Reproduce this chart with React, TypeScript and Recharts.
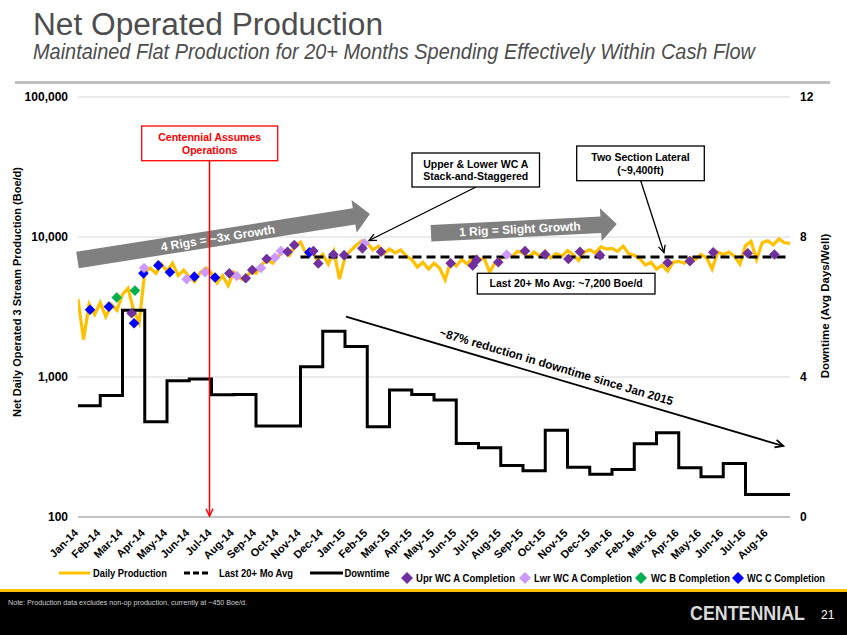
import { ComposedChart, Line, Scatter, XAxis, YAxis, CartesianGrid } from 'recharts';

const FONT = '"Liberation Sans", Arial, sans-serif';

const months = [
  'Jan-14', 'Feb-14', 'Mar-14', 'Apr-14', 'May-14', 'Jun-14', 'Jul-14', 'Aug-14',
  'Sep-14', 'Oct-14', 'Nov-14', 'Dec-14', 'Jan-15', 'Feb-15', 'Mar-15', 'Apr-15',
  'May-15', 'Jun-15', 'Jul-15', 'Aug-15', 'Sep-15', 'Oct-15', 'Nov-15', 'Dec-15',
  'Jan-16', 'Feb-16', 'Mar-16', 'Apr-16', 'May-16', 'Jun-16', 'Jul-16', 'Aug-16',
];

// daily production, read roughly 4 times a month (Boe/d)
const production = [
  3600, 1850, 3300, 2800, // Jan-14
  3400, 2700, 3300, 3000,
  3900, 4300, 3000, 2450,
  5600, 6000, 5500, 6400,
  5700, 6500, 5300, 5800,
  5200, 4800, 5600, 6000,
  5500, 4700, 5300, 4500,
  5600, 5100, 4900, 5700,
  5500, 6300, 6900, 6500,
  7300, 8000, 7400, 8600,
  9200, 7600, 8100, 6800,
  7500, 6400, 7900, 5000,
  7200, 8000, 8700, 9400, // Jan-15
  9100, 8100, 8600, 7600,
  8200, 7700, 8100, 7300,
  6900, 6100, 6600, 5900,
  6500, 6000, 4950, 6700,
  6200, 6900, 6400, 7200,
  6800, 7100, 5600, 6600,
  7000, 7600, 7200, 7900,
  7700, 7200, 7800, 7300,
  7900, 7100, 7600, 7300,
  8000, 7500, 6800, 7800,
  8100, 7700, 8500, 8200,
  8300, 7900, 8600, 7600, // Jan-16
  7400, 7000, 6300, 6600,
  5900, 6300, 5700, 6600,
  6700, 6500, 7100, 6900,
  7500, 7100, 5900, 7800,
  7500, 7800, 7300, 6400,
  8700, 9300, 6900, 9100,
  9400, 8800, 9700, 9100,
  9000,
];

// downtime per month (avg days / well)
const downtime = [
  3.18, 3.47, 5.91, 2.72, 3.89, 3.94, 3.49, 3.5, 2.6, 2.6, 4.29, 5.31,
  4.87, 2.58, 3.63, 3.5, 3.34, 2.1, 1.98, 1.47, 1.32, 2.48, 1.42, 1.22,
  1.36, 2.09, 2.41, 1.41, 1.15, 1.53, 0.64, 0.64,
];

const avgLevel = 7200;
const avgStart = 10; // Nov-14

// completions: [month position, production]
const uprWcA = [
  [2.41, 2850], [6.8, 5500], [7.54, 5070], [7.83, 5810], [8.48, 6970], [9.42, 7850],
  [9.72, 8770], [10.58, 7950], [10.8, 6460], [11.48, 7500], [11.96, 7420], [12.78, 8300],
  [13.62, 7850], [16.75, 6500], [17.74, 6270], [17.92, 6860], [18.89, 6600], [20.09, 7950],
  [20.99, 7500], [22.04, 6970], [22.56, 7850], [23.46, 7420], [26.5, 6550], [27.5, 6720],
  [28.55, 7770], [30.1, 7660], [31.3, 7500],
];
const lwrWcA = [
  [2.97, 6000], [4.88, 5000], [5.71, 5600], [7.13, 5270], [8.22, 6000], [8.85, 7130],
  [9.12, 7950], [12.87, 9000], [19.27, 7500],
];
const wcB = [[1.74, 3700], [2.56, 4140]];
const wcC = [
  [0.54, 3020], [1.39, 3180], [2.52, 2420], [2.94, 5500], [3.61, 6270], [4.13, 5600],
  [5.23, 5210], [6.16, 5140], [10.4, 7770],
];

const prodData = production.map((y, i) => ({ x: i / 4, y }));
const downData = [
  ...downtime.map((y, i) => ({ x: i, y })),
  { x: months.length, y: downtime[downtime.length - 1] },
];
const avgData = [{ x: avgStart, y: avgLevel }, { x: months.length, y: avgLevel }];
const pts = (arr: number[][]) => arr.map(([x, y]) => ({ x, y }));

const diamond = (fill: string) => (p: any) => {
  if (p.cx == null || p.cy == null) return <g />;
  const r = 5.3;
  return (
    <polygon
      points={`${p.cx},${p.cy - r} ${p.cx + r},${p.cy} ${p.cx},${p.cy + r} ${p.cx - r},${p.cy}`}
      fill={fill}
    />
  );
};

const MonthTick = (p: any) => {
  const x = p.x - 2;
  const y = 531;
  return (
    <text x={x} y={y} transform={`rotate(-45 ${x} ${y})`} textAnchor="end" dy="0.35em"
      fontSize={11} fontWeight="bold" fill="#000">
      {months[p.payload.value]}
    </text>
  );
};

function GrayArrow({ x, y, len, angle, text, textAt }: any) {
  const bw = 8.3, hw = 16.5, hl = 16;
  const p = [[0, -bw], [len - hl, -bw], [len - hl, -hw], [len, 0], [len - hl, hw], [len - hl, bw], [0, bw]]
    .map((q) => q.join(',')).join(' ');
  return (
    <g transform={`translate(${x} ${y}) rotate(${angle})`}>
      <polygon points={p} fill="#808080" />
      <text x={textAt} y={0} dy="0.36em" textAnchor="middle" fill="#fff" fontWeight="bold" fontSize={12}>{text}</text>
    </g>
  );
}

function NoteBox({ x, y, w, h, lines, color = '#000', lh = 13 }: any) {
  const n = lines.length;
  return (
    <g>
      <rect x={x} y={y} width={w} height={h} fill="#fff" stroke={color} strokeWidth={1.3} />
      {lines.map((l: string, i: number) => (
        <text key={i} x={x + w / 2} y={y + h / 2 + (i - (n - 1) / 2) * lh} dy="0.36em"
          textAnchor="middle" fontSize={10.5} fontWeight="bold" fill={color}>{l}</text>
      ))}
    </g>
  );
}

function ArrowLine({ x1, y1, x2, y2, color = '#000', w = 1.3, s = 8 }: any) {
  const a = Math.atan2(y2 - y1, x2 - x1);
  const d = 0.45;
  const h1 = [x2 - s * Math.cos(a - d), y2 - s * Math.sin(a - d)];
  const h2 = [x2 - s * Math.cos(a + d), y2 - s * Math.sin(a + d)];
  return (
    <g stroke={color} strokeWidth={w} fill="none">
      <line x1={x1} y1={y1} x2={x2} y2={y2} />
      <polyline points={`${h1[0]},${h1[1]} ${x2},${y2} ${h2[0]},${h2[1]}`} />
    </g>
  );
}

const LegendDiamond = ({ cx, cy, fill }: any) => (
  <polygon points={`${cx},${cy - 6} ${cx + 6},${cy} ${cx},${cy + 6} ${cx - 6},${cy}`} fill={fill} />
);

export default function App() {
  return (
    <div style={{ position: 'absolute', left: 0, top: 0, width: 847, height: 635, background: '#fff', fontFamily: FONT, overflow: 'hidden' }}>
      <ComposedChart width={847} height={570} margin={{ top: 97, right: 0, bottom: 0, left: 0 }}>
        <CartesianGrid yAxisId="left" vertical={false} stroke="#d9d9d9" />
        <XAxis dataKey="x" type="number" domain={[0, months.length]} ticks={months.map((_, i) => i)}
          interval={0} tick={(p: any) => <MonthTick {...p} />} tickLine={false}
          axisLine={{ stroke: '#9a9a9a' }} height={53} allowDataOverflow />
        <YAxis yAxisId="left" dataKey="y" scale="log" domain={[100, 100000]} ticks={[100, 1000, 10000, 100000]}
          allowDataOverflow width={78} tickFormatter={(v: number) => v.toLocaleString('en-US')}
          tick={{ fontSize: 12, fontWeight: 'bold', fill: '#000' }} axisLine={false} tickLine={false}
          tickSize={0} tickMargin={10} />
        <YAxis yAxisId="right" orientation="right" dataKey="y" domain={[0, 12]} ticks={[0, 4, 8, 12]}
          allowDataOverflow width={57} tick={{ fontSize: 12, fontWeight: 'bold', fill: '#000' }}
          axisLine={false} tickLine={false} tickSize={0} tickMargin={10} />
        <Line yAxisId="left" data={prodData} dataKey="y" type="linear" stroke="#FFC000" strokeWidth={3.2}
          dot={false} isAnimationActive={false} />
        <Line yAxisId="left" data={avgData} dataKey="y" type="linear" stroke="#000" strokeWidth={3}
          strokeDasharray="9 5" dot={false} isAnimationActive={false} />
        <Line yAxisId="right" data={downData} dataKey="y" type="stepAfter" stroke="#000" strokeWidth={3}
          dot={false} isAnimationActive={false} />
        <Scatter yAxisId="left" data={pts(wcC)} shape={diamond('#0000FF')} isAnimationActive={false} />
        <Scatter yAxisId="left" data={pts(wcB)} shape={diamond('#00B050')} isAnimationActive={false} />
        <Scatter yAxisId="left" data={pts(lwrWcA)} shape={diamond('#CC99FF')} isAnimationActive={false} />
        <Scatter yAxisId="left" data={pts(uprWcA)} shape={diamond('#7030A0')} isAnimationActive={false} />
      </ComposedChart>

      <svg width={847} height={635} style={{ position: 'absolute', left: 0, top: 0, pointerEvents: 'none' }} fontFamily={FONT}>
        <text x={33} y={35} fontSize={31} fill="#4d4d4d" textLength={350} lengthAdjust="spacingAndGlyphs">Net Operated Production</text>
        <text x={33} y={58.5} fontSize={22} fontStyle="italic" fill="#4d4d4d" textLength={722} lengthAdjust="spacingAndGlyphs">
          Maintained Flat Production for 20+ Months Spending Effectively Within Cash Flow
        </text>
        <rect x={15} y={81} width={815} height={3} fill="#bfbfbf" />

        <text transform="translate(17 292) rotate(-90)" textAnchor="middle" dy="0.36em" fontSize={11} fontWeight="bold">
          Net Daily Operated 3 Stream Production (Boe/d)
        </text>
        <text transform="translate(825 306) rotate(-90)" textAnchor="middle" dy="0.36em" fontSize={11.5} fontWeight="bold">
          Downtime (Avg Days/Well)
        </text>

        <GrayArrow x={77.5} y={260} len={296} angle={-8.96} text="4 Rigs = ~3x Growth" textAt={142} />
        <GrayArrow x={431} y={233.3} len={186} angle={-2.87} text="1 Rig = Slight Growth" textAt={89} />

        <ArrowLine x1={209.5} y1={160.7} x2={209.5} y2={516} color="#FF0000" w={1.5} />
        <NoteBox x={141.7} y={126} w={136} h={34.7} color="#FF0000" lines={['Centennial Assumes', 'Operations']} />

        <ArrowLine x1={476} y1={187} x2={369} y2={240.5} />
        <NoteBox x={412} y={153} w={127.5} h={34} lh={12.5} lines={['Upper & Lower WC A', 'Stack-and-Staggered']} />

        <ArrowLine x1={640.7} y1={180.7} x2={664} y2={252.7} />
        <NoteBox x={576.7} y={146} w={127.6} h={34.7} lines={['Two Section Lateral', '(~9,400ft)']} />

        <NoteBox x={477.3} y={273.3} w={177.7} h={20.7} lines={['Last 20+ Mo Avg: ~7,200 Boe/d']} />

        <ArrowLine x1={346} y1={316.7} x2={783.3} y2={446} w={1.8} s={9} />
        <text transform="translate(556.5 366.5) rotate(16.6)" textAnchor="middle" dy="0.36em" fontSize={12}
          fontWeight="bold" textLength={243} lengthAdjust="spacingAndGlyphs">
          ~87% reduction in downtime since Jan 2015
        </text>

        {/* legend */}
        <line x1={59} y1={573} x2={90} y2={573} stroke="#FFC000" strokeWidth={3} />
        <text x={93} y={573} dy="0.36em" fontSize={10} fontWeight="bold" textLength={74} lengthAdjust="spacingAndGlyphs">Daily Production</text>
        <line x1={184} y1={573} x2={211} y2={573} stroke="#000" strokeWidth={3} strokeDasharray="6 3" />
        <text x={219} y={573} dy="0.36em" fontSize={10} fontWeight="bold" textLength={74} lengthAdjust="spacingAndGlyphs">Last 20+ Mo Avg</text>
        <line x1={310} y1={573} x2={343} y2={573} stroke="#000" strokeWidth={3} />
        <text x={344.5} y={573} dy="0.36em" fontSize={10} fontWeight="bold" textLength={45} lengthAdjust="spacingAndGlyphs">Downtime</text>

        <LegendDiamond cx={407} cy={578} fill="#7030A0" />
        <text x={416} y={578} dy="0.36em" fontSize={10} fontWeight="bold" textLength={99} lengthAdjust="spacingAndGlyphs">Upr WC A Completion</text>
        <LegendDiamond cx={525} cy={578} fill="#CC99FF" />
        <text x={534} y={578} dy="0.36em" fontSize={10} fontWeight="bold" textLength={98} lengthAdjust="spacingAndGlyphs">Lwr WC A Completion</text>
        <LegendDiamond cx={641} cy={578} fill="#00B050" />
        <text x={651} y={578} dy="0.36em" fontSize={10} fontWeight="bold" textLength={79} lengthAdjust="spacingAndGlyphs">WC B Completion</text>
        <LegendDiamond cx={738} cy={578} fill="#0000FF" />
        <text x={747} y={578} dy="0.36em" fontSize={10} fontWeight="bold" textLength={78} lengthAdjust="spacingAndGlyphs">WC C Completion</text>

        {/* footer */}
        <rect x={0} y={589} width={847} height={3} fill="#FFC000" />
        <rect x={0} y={592} width={847} height={43} fill="#000" />
        <text x={8} y={605} fontSize={7} fill="#cfcfcf" textLength={239} lengthAdjust="spacingAndGlyphs">
          Note: Production data excludes non-op production, currently at ~450 Boe/d.
        </text>
        <text transform="translate(690 620) scale(0.85 1)" fontSize={21} fontWeight="bold" fill="#d9d9d9">CENTENNIAL</text>
        <text x={821} y={619} fontSize={12} fill="#fff">21</text>
      </svg>
    </div>
  );
}
